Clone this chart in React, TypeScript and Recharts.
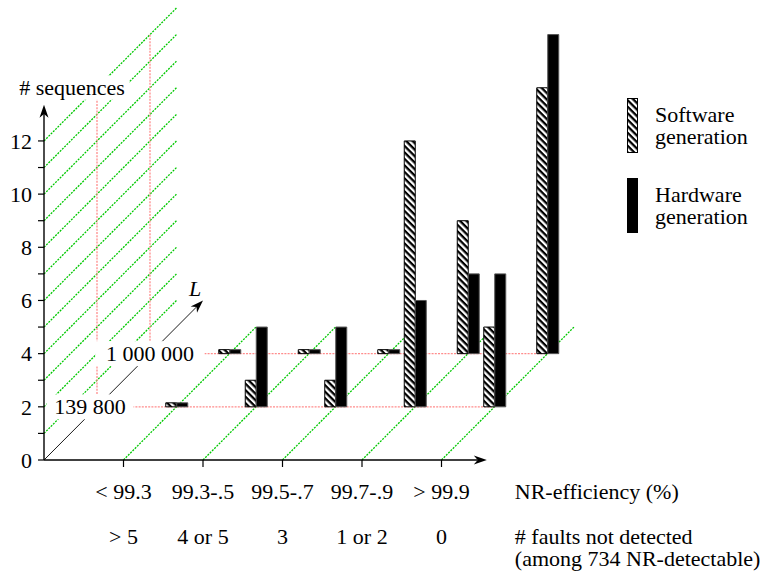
import React from "react";
import { ComposedChart, Bar, XAxis, YAxis, ReferenceLine, ReferenceDot, Legend } from "recharts";

// categories
const efficiency = ["< 99.3", "99.3-.5", "99.5-.7", "99.7-.9", "> 99.9"];
const faults = ["> 5", "4 or 5", "3", "1 or 2", "0"];
const lengths = ["139 800", "1 000 000"];
const seriesNames = ["Software generation", "Hardware generation"];

// # sequences per class, measured from the floor of each L plane (15 sequences each)
const swShort = [0, 1, 1, 10, 3];
const hwShort = [0, 3, 3, 4, 5];
const swLong = [0, 0, 0, 5, 10];
const hwLong = [0, 0, 0, 3, 12];

const yTicks = [0, 1, 2, 3, 4, 5, 6, 7, 8, 9, 10, 11, 12];
const xTicks = [1, 2, 3, 4, 5];

const W = 768, H = 571;
const X_SPAN = 7, Y_SPAN = 17;
const STEP_X = 2 / 3, STEP_Y = 2; // shift of one L plane
const WALL = 2.5; // depth of the wall, in planes
const X_END = 5.57, Y_END = 13.36;
const MARGIN = { top: 8, right: 167.5, left: 0, bottom: 81 };
const FONT = 22;
const SERIF = '"Liberation Serif", "Times New Roman", serif';
const GREEN = "#00c800";
const RED = "#ff8c8c";
const fills: Record<string, string> = { sw: "url(#hatch)", hw: "#000" };

const front = efficiency.map((_, i) => ({ pos: i + 1 }));
const planes = [
  efficiency.map((_, i) => ({ pos: i + 1, sw: swShort[i], hw: hwShort[i] })),
  efficiency.map((_, i) => ({ pos: i + 1, sw: swLong[i], hw: hwLong[i] })),
];

const T = (p: any) => <text fontFamily={SERIF} fontSize={FONT} fill="#000" {...p} />;

function ArrowLine(p: any) {
  const { x1, y1, x2, y2 } = p;
  const a = Math.atan2(y2 - y1, x2 - x1);
  const c = Math.cos(a), s = Math.sin(a);
  const len = 13, half = 4.5;
  const bx = x2 - len * c, by = y2 - len * s;
  const nx = x2 - len * 0.7 * c, ny = y2 - len * 0.7 * s;
  const pts = `${x2},${y2} ${bx - half * s},${by + half * c} ${nx},${ny} ${bx + half * s},${by - half * c}`;
  return (
    <g>
      <line x1={x1} y1={y1} x2={nx} y2={ny} stroke="#000" strokeWidth={p.w ?? 1} />
      <polygon points={pts} fill="#000" />
    </g>
  );
}

const XTick = (p: any) => {
  const i = Number(p.payload.value) - 1;
  return (
    <g>
      <T x={p.x} y={p.y + 32} textAnchor="middle">{efficiency[i]}</T>
      <T x={p.x} y={p.y + 77} textAnchor="middle">{faults[i]}</T>
    </g>
  );
};

const YTick = (p: any) =>
  p.payload.value % 2 ? <g /> : (
    <T x={p.x} y={p.y} dy="0.35em" textAnchor="end">{p.payload.value}</T>
  );

const LegendBox = (props: any) => {
  const items = [...(props.payload || [])].sort(
    (a: any, b: any) => seriesNames.indexOf(a.value) - seriesNames.indexOf(b.value));
  return (
    <svg width={141} height={140} style={{ display: "block" }}>
      {items.map((e: any, i: number) => {
        const top = i * 80;
        const [a, b] = String(e.value).split(" ");
        return (
          <g key={i}>
            <rect x={0.5} y={top + 0.5} width={10} height={54} fill={fills[e.dataKey]} stroke="#000" />
            <T x={28} y={top + 24}>{a}</T>
            <T x={28} y={top + 46}>{b}</T>
          </g>
        );
      })}
    </svg>
  );
};

function axes(depth: number) {
  return [
    <XAxis key="x" type="number" dataKey="pos" domain={[-depth * STEP_X, X_SPAN - depth * STEP_X]}
      allowDataOverflow height={30} tick={false} tickLine={false} axisLine={false} />,
    <YAxis key="y" type="number" domain={[-depth * STEP_Y, Y_SPAN - depth * STEP_Y]}
      allowDataOverflow width={44} tick={false} tickLine={false} axisLine={false} />,
  ];
}

const layer: React.CSSProperties = { position: "absolute", left: 0, top: 0 };

export default function App() {
  return (
    <div style={{ position: "absolute", left: 0, top: 0, width: W, height: H, overflow: "hidden", background: "#fff",
      fontFamily: SERIF }}>
      <svg width={0} height={0} style={{ position: "absolute" }}>
        <defs>
          <pattern id="hatch" patternUnits="userSpaceOnUse" width={4.6} height={4.6} patternTransform="rotate(45)">
            <rect width={4.6} height={4.6} fill="#fff" />
            <rect width={4.6} height={2.3} fill="#000" />
          </pattern>
        </defs>
      </svg>

      {/* grid: wall and floor lines, plane axes */}
      <div style={layer}>
        <ComposedChart width={W} height={H} data={front} margin={MARGIN}>
          {axes(0)}
          {yTicks.filter((k) => k > 0).map((k) => (
            <ReferenceLine key={"w" + k} segment={[{ x: 0, y: k }, { x: WALL * STEP_X, y: k + WALL * STEP_Y }]}
              stroke={GREEN} strokeWidth={1.3} strokeDasharray="2 1.2" ifOverflow="visible" />
          ))}
          {xTicks.map((t) => (
            <ReferenceLine key={"f" + t} segment={[{ x: t, y: 0 }, { x: t + WALL * STEP_X, y: WALL * STEP_Y }]}
              stroke={GREEN} strokeWidth={1.3} strokeDasharray="2 1.2" ifOverflow="visible" />
          ))}
          {lengths.map((_, j) => {
            const d = j + 1;
            return [
              <ReferenceLine key={"rh" + d} segment={[{ x: d * STEP_X, y: d * STEP_Y }, { x: d * STEP_X + 5, y: d * STEP_Y }]}
                stroke={RED} strokeWidth={1.3} strokeDasharray="2 1.2" ifOverflow="visible" />,
              <ReferenceLine key={"rv" + d} segment={[{ x: d * STEP_X, y: d * STEP_Y }, { x: d * STEP_X, y: d * STEP_Y + 12 }]}
                stroke={RED} strokeWidth={1.3} strokeDasharray="2 1.2" ifOverflow="visible" />,
            ];
          })}
        </ComposedChart>
      </div>

      {/* L planes, back one first */}
      {[1, 0].map((j) => (
        <div key={j} style={layer}>
          <ComposedChart width={W} height={H} data={planes[j]} margin={MARGIN} barGap={0}>
            {axes(j + 1)}
            <Bar dataKey="sw" name={seriesNames[0]} fill={fills.sw} stroke="#000" barSize={11} minPointSize={4} isAnimationActive={false} />
            <Bar dataKey="hw" name={seriesNames[1]} fill={fills.hw} stroke="#555" barSize={11} minPointSize={4} isAnimationActive={false} />
            {j === 0 && (
              <Legend layout="vertical" align="center" verticalAlign="middle" content={LegendBox}
                wrapperStyle={{ left: 627, top: 98, width: 141, height: 140 }} />
            )}
          </ComposedChart>
        </div>
      ))}

      {/* front: axes, arrows, labels */}
      <div style={layer}>
        <ComposedChart width={W} height={H} data={front} margin={MARGIN}>
          <XAxis type="number" dataKey="pos" domain={[0, X_SPAN]} allowDataOverflow ticks={xTicks} interval={0}
            height={30} axisLine={false} tickLine={{ stroke: "#000", strokeWidth: 1.2 }} tickSize={7} tickMargin={0}
            tick={(p: any) => <XTick {...p} />} />
          <YAxis type="number" domain={[0, Y_SPAN]} allowDataOverflow ticks={yTicks} interval={0}
            width={44} axisLine={false} tickLine={{ stroke: "#000", strokeWidth: 1.2 }} tickSize={6} tickMargin={6}
            tick={(p: any) => <YTick {...p} />} />
          <ReferenceLine segment={[{ x: 0, y: 0 }, { x: X_END, y: 0 }]} ifOverflow="visible"
            shape={(p: any) => <ArrowLine {...p} w={1.4} />} />
          <ReferenceLine segment={[{ x: 0, y: 0 }, { x: 0, y: Y_END }]} ifOverflow="visible"
            shape={(p: any) => <ArrowLine {...p} w={1.4} />} />
          <ReferenceLine segment={[{ x: 0, y: 0 }, { x: 3 * STEP_X, y: 3 * STEP_Y }]} ifOverflow="visible"
            shape={(p: any) => <ArrowLine {...p} w={0.9} />} />
          <ReferenceDot x={3 * STEP_X} y={3 * STEP_Y} r={0} ifOverflow="visible"
            shape={(p: any) => (
              <T x={p.cx - 8} y={p.cy - 4} textAnchor="middle" fontStyle="italic">L</T>
            )} />
          <ReferenceDot x={0} y={Y_END} r={0} ifOverflow="visible"
            shape={(p: any) => (
              <g>
                <rect x={p.cx - 27} y={p.cy - 29} width={112} height={24} fill="#fff" />
                <T x={p.cx + 28} y={p.cy - 10} textAnchor="middle"># sequences</T>
              </g>
            )} />
          <ReferenceDot x={X_END} y={0} r={0} ifOverflow="visible"
            shape={(p: any) => (
              <g>
                <T x={p.cx + 28} y={p.cy + 39}>NR-efficiency (%)</T>
                <T x={p.cx + 28} y={p.cy + 84}># faults not detected</T>
                <T x={p.cx + 28} y={p.cy + 106}>(among 734 NR-detectable)</T>
              </g>
            )} />
          {lengths.map((t, j) => {
            const d = j + 1;
            const shift = d === 1 ? -7 : 0;
            const half = t.length * 5.5 + 5;
            return (
              <ReferenceDot key={t} x={d * STEP_X} y={d * STEP_Y} r={0} ifOverflow="visible"
                shape={(p: any) => (
                  <g>
                    <rect x={p.cx + shift - half} y={p.cy - 12.5} width={2 * half} height={25} fill="#fff" />
                    <T x={p.cx + shift} y={p.cy + 7.5} textAnchor="middle">{t}</T>
                  </g>
                )} />
            );
          })}
        </ComposedChart>
      </div>
    </div>
  );
}
